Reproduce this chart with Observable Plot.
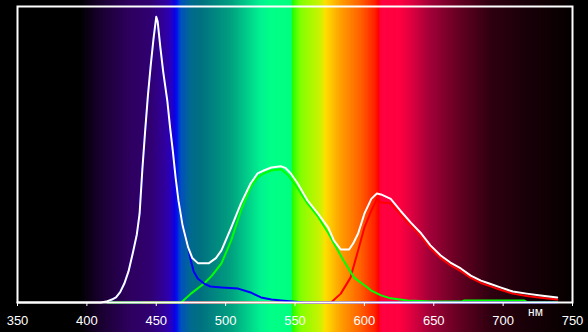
<!DOCTYPE html>
<html>
<head>
<meta charset="utf-8">
<script src="https://cdn.jsdelivr.net/npm/d3@7"></script>
<script src="https://cdn.jsdelivr.net/npm/@observablehq/plot@0.6"></script>
<style>
  html, body { margin: 0; padding: 0; background: #000; }
  #chart svg { display: block; }
</style>
</head>
<body>
<div id="chart"></div>
<script>
// X axis ticks (nm)
const xTicks = [350, 400, 450, 500, 550, 600, 650, 700, 750];

// Total (white)
const whiteNm = [350,410,414,418,421,424,427,430,433,436,438,440,442,444,446,448,450,451,453,455,458,460,462,464,466,469,473,476,480,488,493,497,504,511,518,523,527,533,540,543,547,552,559,566.6,574,578,583,589,592,595.5,600,605,609,612,619,626,633.5,641,647.6,655,662,669.5,676.7,684,690,698,707,717,727,739];
const whiteVal = [0,0,0.3,1,1.7,3.5,6.4,10.5,16.5,23,30,45,58,70,80,89,96.5,95,86,78,68,59,51,42,34.5,26,18.6,15,13.3,13.3,15,17.6,25.3,33.4,40.2,43.6,44.5,45.6,46,45.5,43.6,40.2,34.5,30,25.3,21,17.9,17.9,20,23.3,30,35,36.8,36.5,35,31,27,23.3,19.3,15.9,13.5,11.5,9.1,7.4,6.4,5.1,3.7,3,2.4,1.7];

// Blue channel
const blueNm = [415,418,421,424,427,430,433,436,438,440,442,444,446,448,450,451,453,455,458,460,462,464,466,469,473,475,477,480,484.5,489,497,509,518,525.5,533,540,557,739];
const blueVal = [0.3,1,1.7,3.5,6.4,10.5,16.5,23,30,45,58,70,80,89,96.5,95,86,78,68,59,51,42,34.5,26,18.6,14,10.5,8,6.4,5.4,5.1,4.7,3.4,1.7,1,0.7,0,0];

// Green channel
const greenNm = [415,468,475,484.5,490,497,504,511,518,523,527,533,540,545,549.5,552,559,566.6,574,578,585,592.6,598,602.5,605,612,619,631,650,670,672,715,717,739];
const greenVal = [0,0,3,6.4,9,13.2,21,31,38.9,42.2,43.5,44.6,45,43,40.2,38.5,33.5,29,23.5,20,14.2,8.4,6.5,5,4,2.4,1.4,0.7,0.3,0.3,0.7,0.7,0.2,0.2];

// Red channel
const redNm = [440,576,583,590,595.5,600,605,609,612,619,626,633.5,641,647.6,655,662,669.5,676.7,684,690,698,707,717,727,739];
const redVal = [0,0,3,8.4,17.6,25.3,31,35,33.8,33.5,29.8,25.8,22.2,18.3,15,12.6,10.6,8.3,6.6,5.6,4.3,3,2.2,1.6,1];

// Spectrum background colour stops
const specNm = [350,395,410,432,446,457,461,463.5,465,468,475,482,504,525,533,547.5,548.5,554,569,572,583,597.6,608,610.5,612,626,634,648,670,691,719,747,750];
const specColor = ["#000000","#000000","#1a0030","#2e0060","#300070","#3000a0","#2800c0","#1000e0","#0010f0","#0050c0","#006a90","#007080","#00a080","#00f090","#00ff88","#00ff80","#20ff00","#80ff00","#d0f000","#ffe000","#ffa000","#ff6000","#ff2000","#ff0000","#ff0040","#ff0040","#e00040","#a00038","#600020","#300010","#180008","#080000","#000000"];

const toRows = (xs, ys) => xs.map((x, i) => ({x, y: ys[i]}));
const specScale = d3.scaleLinear().domain(specNm).range(specColor).interpolate(d3.interpolateRgb);
const bands = d3.range(350, 750, 1).map(nm => ({x1: nm, x2: Math.min(750, nm + 1.6), c: specScale(nm + 0.5)}));

const chart = Plot.plot({
  width: 588,
  height: 332,
  marginLeft: 17,
  marginRight: 16,
  marginTop: 6,
  marginBottom: 30,
  style: {background: "#000", fontFamily: "'Liberation Sans', Arial, sans-serif"},
  x: {domain: [350, 750], axis: null},
  y: {domain: [0, 100], axis: null},
  color: {type: "identity"},
  marks: [
    Plot.rect(bands, {x1: "x1", x2: "x2", y1: -12, y2: 104, fill: "c"}),
    Plot.line(toRows(redNm, redVal), {x: "x", y: "y", stroke: "#ff0000", strokeWidth: 2}),
    Plot.line(toRows(greenNm, greenVal), {x: "x", y: "y", stroke: "#00ff00", strokeWidth: 2}),
    Plot.line(toRows(blueNm, blueVal), {x: "x", y: "y", stroke: "#0000ff", strokeWidth: 2}),
    Plot.line(toRows(whiteNm, whiteVal), {x: "x", y: "y", stroke: "#ffffff", strokeWidth: 2}),
    Plot.frame({stroke: "#ffffff", strokeWidth: 2}),
    Plot.axisX({ticks: xTicks, tickSize: 4, tickPadding: 9, stroke: "#ffffff", fill: "#ffffff", fontSize: 13, label: null, tickFormat: d => String(d)}),
    Plot.text(["нм"], {frameAnchor: "bottom-right", dx: -37, dy: 13, fill: "#ffffff", fontSize: 12, textAnchor: "middle"})
  ]
});
document.getElementById("chart").appendChild(chart);
</script>
</body>
</html>
